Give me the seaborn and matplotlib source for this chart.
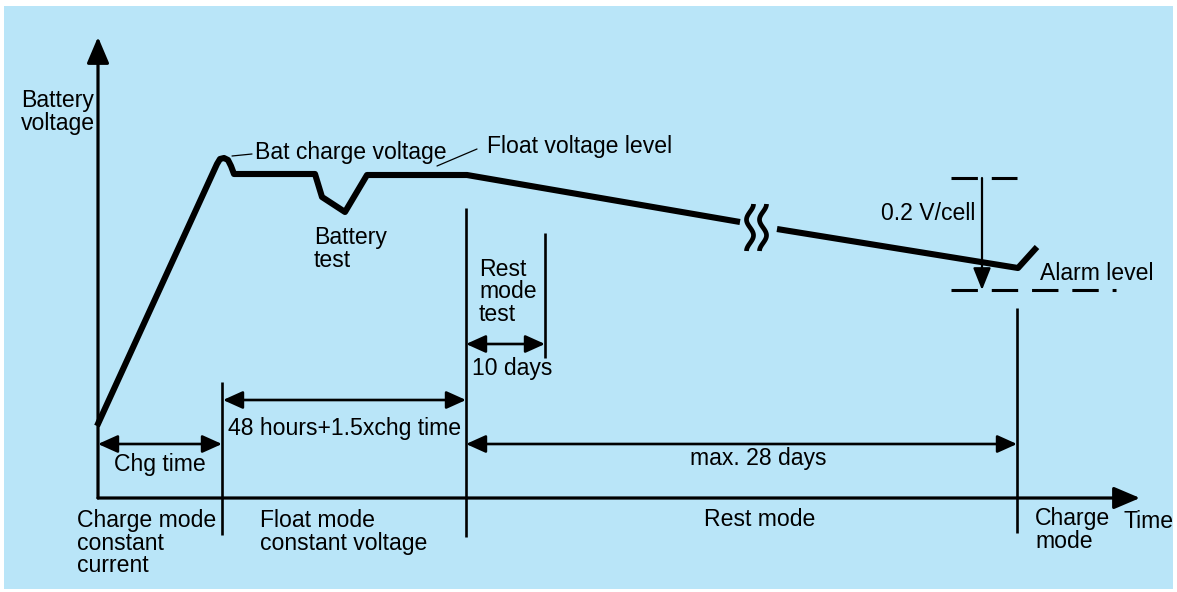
import numpy as np
import pandas as pd
import seaborn as sns
import matplotlib.pyplot as plt

sns.set_theme(style='white')
plt.rcParams['font.family'] = ['Liberation Sans', 'DejaVu Sans']
plt.rcParams['lines.scale_dashes'] = False

# ---- data (diagram units, origin = corner of the time / voltage axes) ----
curve_t = [-1, 119, 122, 126, 130, 133, 136, 217, 224, 247, 269, 369, 642, 679, 920, 939]
curve_v = [72, 334, 339, 340, 338, 332, 324, 324, 301, 286, 323, 323, 276, 269, 230, 251]
curve_seg = [0] * 13 + [1] * 3          # the curve is cut by the break symbol
break_t = [652, 665]
break_v = [247, 294]

# mode boundaries on the time axis
sep_t = [124, 368, 447, 919]
sep_top = [116, 290, 265, 190]
sep_bottom = [-37, -39, 140, -35]

# dimension arrows: start, end, height
dim_t0 = [0, 125, 368, 368]
dim_t1 = [124, 368, 447, 919]
dim_v = [54, 98, 154, 54]

float_level = 320
alarm_level = 208
alarm_t = 884

blue = '#b9e5f8'
FS = 16.6

fig = plt.figure(figsize=(11.77, 5.92), dpi=100, facecolor='white')
ax = fig.add_axes([4 / 1177, 3 / 592, 1169 / 1177, 583 / 592])
ax.set_facecolor(blue)
ax.set_xlim(-94, 1075)
ax.set_ylim(-91, 492)
for s in ax.spines.values():
    s.set_visible(False)
ax.set_xticks([])
ax.set_yticks([])

# voltage curve
df = pd.DataFrame({'t': curve_t, 'v': curve_v, 'seg': curve_seg})
sns.lineplot(data=df, x='t', y='v', units='seg', estimator=None, sort=False,
             color='black', linewidth=4.4, legend=False, ax=ax)
for ln in ax.lines:
    ln.set_solid_joinstyle('round')
    ln.set_solid_capstyle('butt')
ax.set(xlabel='', ylabel='')

# break symbol (two small S strokes)
s = np.linspace(0, 1, 60)
for bt in break_t:
    ax.plot(bt + 3.5 * np.sin(3 * np.pi * s - np.pi / 2),
            break_v[0] + s * (break_v[1] - break_v[0]),
            color='black', lw=3.4, solid_capstyle='butt')

# axes with arrows
ax_arrow = dict(arrowstyle='-|>,head_length=0.4,head_width=0.17', color='black',
                lw=2.3, shrinkA=0, shrinkB=0, mutation_scale=40)
ax.annotate('', xy=(0, 461), xytext=(0, 0), arrowprops=ax_arrow)
ax.annotate('', xy=(1042, 0), xytext=(0, 0), arrowprops=ax_arrow)

# mode separators
ax.vlines(sep_t, sep_bottom, sep_top, color='black', lw=1.9)

# dimension arrows
dim_arrow = dict(arrowstyle='<|-|>,head_length=0.4,head_width=0.18', color='black',
                 lw=1.9, shrinkA=0, shrinkB=0, mutation_scale=30)
for t0, t1, v in zip(dim_t0, dim_t1, dim_v):
    ax.annotate('', xy=(t1, v), xytext=(t0, v), arrowprops=dim_arrow)

# 0.2 V/cell band
ax.plot([853, 919], [float_level, float_level], color='black', lw=2.2,
        dashes=(19, 10), dash_capstyle='butt')
ax.plot([853, 1018], [alarm_level, alarm_level], color='black', lw=2.2,
        dashes=(19, 10), dash_capstyle='butt')
ax.annotate('', xy=(alarm_t, alarm_level), xytext=(alarm_t, float_level),
            arrowprops=dict(arrowstyle='-|>,head_length=0.45,head_width=0.18',
                            color='black', lw=1.6, shrinkA=0, shrinkB=0,
                            mutation_scale=30))

# leader lines
ax.plot([134, 154], [342, 344], color='black', lw=0.9)
ax.plot([339, 379], [332, 349], color='black', lw=0.9)

# labels
txt = dict(fontsize=FS, color='black', linespacing=0.95)
ax.text(-77, 386, 'Battery\nvoltage', ha='left', va='center', **txt)
ax.text(157, 345, 'Bat charge voltage', ha='left', va='center', **txt)
ax.text(389, 351, 'Float voltage level', ha='left', va='center', **txt)
ax.text(216, 249, 'Battery\ntest', ha='left', va='center', **txt)
ax.text(381, 206, 'Rest\nmode\ntest', ha='left', va='center', **txt)
ax.text(374, 129, '10 days', ha='left', va='center', **txt)
ax.text(62, 34, 'Chg time', ha='center', va='center', **txt)
ax.text(247, 70, '48 hours+1.5xchg time', ha='center', va='center', **txt)
ax.text(660, 39, 'max. 28 days', ha='center', va='center', **txt)
ax.text(877, 285, '0.2 V/cell', ha='right', va='center', **txt)
ax.text(942, 225, 'Alarm level', ha='left', va='center', **txt)
ax.text(-21, -45, 'Charge mode\nconstant\ncurrent', ha='left', va='center', **txt)
ax.text(162, -34, 'Float mode\nconstant voltage', ha='left', va='center', **txt)
ax.text(662, -22, 'Rest mode', ha='center', va='center', **txt)
ax.text(937, -32, 'Charge\nmode', ha='left', va='center', **txt)
ax.text(1025, -24, 'Time', ha='left', va='center', **txt)

plt.savefig('out.png', dpi=100, facecolor='white')
